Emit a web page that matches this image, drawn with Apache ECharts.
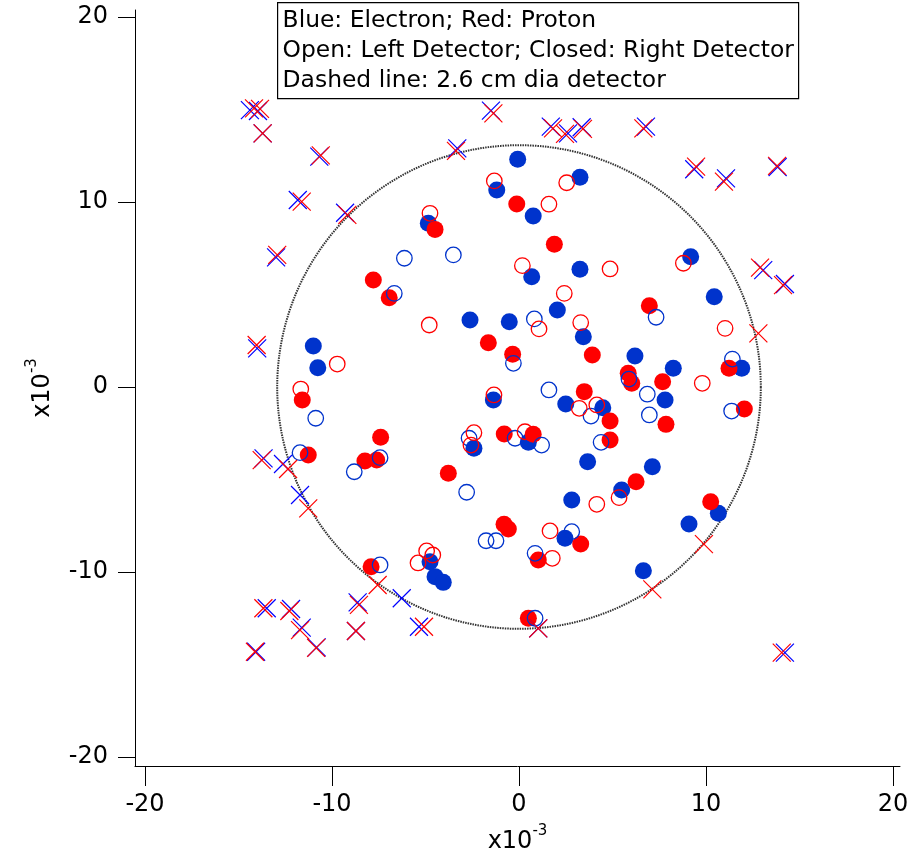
<!DOCTYPE html>
<html>
<head>
<meta charset="utf-8">
<script src="https://cdn.jsdelivr.net/npm/echarts@6/dist/echarts.min.js"></script>
<style>
  html, body { margin: 0; padding: 0; background: #fff; }
  #chart { width: 912px; height: 863px; }
</style>
</head>
<body>
<div id="chart"></div>
<script>
// positions in units of 1e-3
var electronRight = [
  [-0.07, 12.31], [3.26, 11.34], [-1.19, 10.65], [0.76, 9.24], [-4.85, 8.85], [9.18, 7.04],
  [3.26, 6.36], [0.68, 5.96], [10.44, 4.88], [2.05, 4.16], [-2.62, 3.62], [-0.52, 3.53],
  [3.44, 2.72], [-11.0, 2.22], [6.2, 1.68], [-10.76, 1.04], [8.25, 1.01], [11.91, 1.01],
  [-1.37, -0.7], [7.81, -0.7], [2.5, -0.92], [4.48, -1.12], [-2.41, -3.31], [0.5, -2.99],
  [3.67, -4.04], [7.13, -4.31], [2.82, -6.11], [5.49, -5.57], [2.46, -8.18], [9.09, -7.41],
  [10.66, -6.83], [6.65, -9.93], [-4.76, -9.44], [-4.49, -10.25], [-4.05, -10.56]
];
var electronLeft = [
  [-6.13, 6.96], [-3.51, 7.14], [-6.67, 5.06], [0.82, 3.68], [7.33, 3.77], [-0.3, 1.28],
  [11.41, 1.51], [5.88, 0.43], [1.6, -0.16], [-10.87, -1.69], [6.86, -0.39], [3.85, -1.57],
  [6.97, -1.51], [11.37, -1.3], [4.39, -2.99], [-2.67, -2.77], [-0.21, -2.77], [1.21, -3.14],
  [-11.71, -3.55], [-7.43, -3.82], [-8.81, -4.58], [-2.8, -5.69], [-1.76, -8.31], [-1.23, -8.31],
  [2.82, -7.82], [0.86, -8.99], [-7.43, -9.62], [0.86, -12.5]
];
var protonRight = [
  [-0.12, 9.89], [-4.49, 8.52], [1.89, 7.71], [-7.79, 5.78], [-6.94, 4.83], [6.97, 4.39],
  [-1.64, 2.39], [-0.34, 1.77], [3.92, 1.73], [5.84, 0.74], [6.03, 0.2], [7.68, 0.29],
  [11.23, 1.01], [-11.59, -0.7], [3.49, -0.25], [4.87, -1.84], [4.87, -2.86], [7.86, -2.02],
  [12.05, -1.19], [-7.4, -2.72], [-0.79, -2.54], [0.76, -2.56], [-11.27, -3.68], [-8.24, -4.0],
  [-7.61, -3.95], [-3.78, -4.66], [6.26, -5.12], [10.25, -6.2], [-0.8, -7.42], [-0.57, -7.68],
  [3.3, -8.49], [1.03, -9.35], [-7.91, -9.71], [0.5, -12.5]
];
var protonLeft = [
  [-1.32, 11.14], [2.55, 11.04], [1.6, 9.88], [-4.76, 9.39], [0.18, 6.56], [4.87, 6.38],
  [8.79, 6.69], [2.42, 5.06], [-4.8, 3.35], [1.07, 3.14], [3.3, 3.48], [11.02, 3.17],
  [-9.72, 1.24], [-11.67, -0.11], [9.8, 0.2], [-1.34, -0.43], [3.22, -1.15], [4.16, -0.97],
  [-2.41, -2.47], [-2.57, -3.14], [0.32, -2.42], [4.16, -6.34], [5.35, -5.98], [1.66, -7.78],
  [1.78, -9.26], [-4.94, -8.86], [-4.61, -9.08], [-5.4, -9.51]
];
// crosses: hits falling outside the detector
var electronOut = [
  [-14.39, 14.97], [-13.96, 14.92], [-13.71, 13.71], [-10.68, 12.45], [-11.83, 10.11], [-9.3, 9.42],
  [-12.99, 7.01], [-1.5, 14.94], [-3.3, 12.9], [1.7, 14.07], [2.62, 13.71], [3.35, 14.04],
  [6.79, 14.07], [9.37, 11.77], [11.07, 11.28], [13.83, 11.89], [13.06, 6.32], [14.22, 5.57],
  [-14.0, 2.09], [-13.66, -3.86], [-12.62, -4.16], [-11.71, -5.84], [-6.27, -11.42], [-13.49, -11.96],
  [-12.19, -12.0], [-8.63, -11.64], [-11.62, -13.01], [-8.72, -13.19], [-10.82, -14.07], [-14.06, -14.31],
  [-5.35, -12.96], [1.03, -13.05], [14.22, -14.36]
];
var protonOut = [
  [-14.17, 15.06], [-13.85, 15.03], [-13.71, 13.71], [-10.6, 12.52], [-11.62, 10.02], [-9.18, 9.3],
  [-12.93, 7.14], [-1.37, 14.79], [-3.37, 12.76], [1.82, 13.98], [2.46, 13.68], [3.42, 13.95],
  [6.65, 13.98], [9.47, 11.91], [10.96, 11.1], [13.8, 11.95], [12.89, 6.45], [14.12, 5.51],
  [12.8, 2.9], [-14.03, 2.27], [-13.76, -3.95], [-12.35, -4.43], [-11.27, -6.56], [-7.56, -10.7],
  [-13.67, -11.96], [-12.28, -12.11], [-8.56, -11.78], [-11.71, -13.14], [-8.72, -13.19], [-10.85, -14.1],
  [-14.12, -14.31], [-5.08, -12.96], [1.03, -13.05], [9.89, -8.49], [7.13, -10.94], [14.05, -14.36]
];
// detector outline: centre x, centre y, radius (2.6 cm dia)
var detector = [[0, 0, 13]];
var tickValues = [-20, -10, 0, 10, 20];
var legendLines = [
  'Blue: Electron; Red: Proton',
  'Open: Left Detector; Closed: Right Detector',
  'Dashed line: 2.6 cm dia detector'
];

var FONT = 'DejaVu Sans';
var BLUE = '#0033cc';
var RED = '#ff0000';
var crossPath = 'path://M0,0L10,10M10,0L0,10';

var chart = echarts.init(document.getElementById('chart'));

function axisCommon() {
  return {
    type: 'value',
    splitLine: { show: false },
    axisLine: { show: true, onZero: false, lineStyle: { color: '#000', width: 1 } },
    axisTick: { show: true, customValues: tickValues, lineStyle: { color: '#000', width: 1 } },
    axisLabel: {
      customValues: tickValues,
      color: '#000',
      fontFamily: FONT,
      fontSize: 24
    },
    nameLocation: 'middle',
    name: '{a|x10}{b|-3}',
    nameTextStyle: {
      color: '#000',
      fontFamily: FONT,
      rich: {
        a: { fontSize: 24, fontFamily: FONT, color: '#000', lineHeight: 30, verticalAlign: 'bottom' },
        b: { fontSize: 15, fontFamily: FONT, color: '#000', lineHeight: 30, verticalAlign: 'top' }
      }
    }
  };
}

var xAxis = axisCommon();
xAxis.min = -20.535;
xAxis.max = 20.374;
xAxis.axisTick.length = 20;
xAxis.axisLabel.margin = 27;
xAxis.nameGap = 58;

var yAxis = axisCommon();
yAxis.min = -20.486;
yAxis.max = 20.378;
yAxis.axisTick.length = 17;
yAxis.axisLabel.margin = 27;
yAxis.nameGap = 80;

function filled(data, color) {
  return {
    type: 'scatter', data: data, symbol: 'circle', symbolSize: 17,
    itemStyle: { color: color, opacity: 1 }, silent: true
  };
}
function open(data, color) {
  return {
    type: 'scatter', data: data, symbol: 'circle', symbolSize: 15.5,
    itemStyle: { color: 'rgba(0,0,0,0)', borderColor: color, borderWidth: 1.3, opacity: 1 }, silent: true
  };
}
function cross(data, color) {
  return {
    type: 'scatter', data: data, symbol: crossPath, symbolSize: 18,
    itemStyle: { color: 'rgba(0,0,0,0)', borderColor: color, borderWidth: 1.2, opacity: 1 }, silent: true
  };
}

chart.setOption({
  animation: false,
  backgroundColor: '#fff',
  grid: { left: 135, right: 12, top: 10, bottom: 97 },
  xAxis: xAxis,
  yAxis: yAxis,
  series: [
    {
      type: 'custom',
      data: detector,
      silent: true,
      renderItem: function (params, api) {
        var c = api.coord([api.value(0), api.value(1)]);
        var s = api.size([api.value(2), api.value(2)]);
        return {
          type: 'circle',
          shape: { cx: c[0], cy: c[1], r: (s[0] + s[1]) / 2 },
          style: { fill: null, stroke: '#333', lineWidth: 2, lineDash: [1.5, 1] }
        };
      }
    },
    filled(electronRight, BLUE),
    filled(protonRight, RED),
    open(electronLeft, BLUE),
    open(protonLeft, RED),
    cross(electronOut, '#0000ff'),
    cross(protonOut, RED)
  ],
  graphic: [
    {
      type: 'group', left: 277, top: 2,
      children: [
        { type: 'rect', shape: { x: 0, y: 0, width: 521, height: 96 },
          style: { fill: '#fff', stroke: '#000', lineWidth: 1.2 } }
      ].concat(legendLines.map(function (t, i) {
        return {
          type: 'text', x: 5, y: 18 + i * 30,
          style: { text: t, fill: '#000', font: '23.4px "DejaVu Sans"', textVerticalAlign: 'middle' }
        };
      }))
    }
  ]
});
</script>
</body>
</html>
